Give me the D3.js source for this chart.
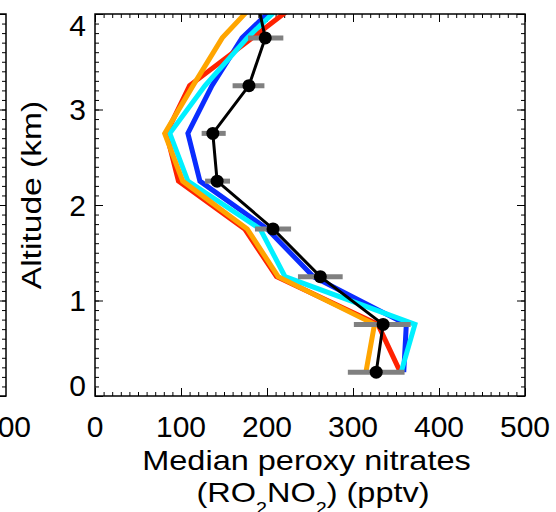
<!DOCTYPE html>
<html>
<head>
<meta charset="utf-8">
<script src="https://cdn.jsdelivr.net/npm/d3@7"></script>
<style>
  html, body { margin: 0; padding: 0; background: #fff; }
  svg { display: block; }
  text { font-family: "Liberation Sans", Arial, Helvetica, sans-serif; fill: #000; }
</style>
</head>
<body>
<svg id="chart" width="556" height="512"></svg>
<script>
// Altitude bins (km) shared by every profile
const altitudes = [0.25, 0.75, 1.25, 1.75, 2.25, 2.75, 3.25, 3.75, 4.25];

// Model profiles of median RO2NO2 (pptv)
const redProfile    = [355, 329, 211, 174,  97,  83, 110, 183, 255];
const blueProfile   = [359, 362, 254, 200, 122, 108, 136, 171, 229];
const cyanProfile   = [356, 372, 221, 192, 108,  87, 128, 177, 235];
const orangeProfile = [315, 325, 213, 177, 102,  81, 114, 148, 200];

// Observed medians with spread bars (pptv)
const obsMedian = [327, 335, 262, 207, 142, 137, 179, 198, 186];
const obsLow    = [294, 301, 236, 186, 128, 124, 160, 178, 165];
const obsHigh   = [360, 367, 288, 228, 157, 152, 197, 219, 207];

// Axis tick labels
const xTickValues = [0, 100, 200, 300, 400, 500];
const yTickValues = [0, 1, 2, 3, 4];

const profiles = [
  { values: blueProfile,   color: "#0a2cff" },
  { values: redProfile,    color: "#ff2200" },
  { values: cyanProfile,   color: "#00f0ff" },
  { values: orangeProfile, color: "#ffa500" }
];

const svg = d3.select("#chart");
const plotLeft = 95, plotRight = 525, plotTop = 14, plotBottom = 396;

const x = d3.scaleLinear().domain([0, 500]).range([plotLeft, plotRight]);
const y = d3.scaleLinear().domain([0, 4]).range([plotBottom, plotTop]);

const minorX = d3.range(0, 501, 10);
const minorY = d3.range(0, 40.5, 1).map(d => d / 10);

// ---- neighbouring panel edge on the far left ----
const edgeX = 6;
const gEdge = svg.append("g").attr("transform", `translate(${edgeX},0)`);
gEdge.append("g").call(d3.axisRight(y).tickValues(minorY).tickSize(-4).tickFormat(""))
  .call(g => g.select(".domain").remove());
gEdge.append("g").call(d3.axisRight(y).tickValues(yTickValues).tickSize(-8).tickFormat(""))
  .call(g => g.select(".domain").remove());
gEdge.selectAll("line").attr("stroke", "#000").attr("stroke-width", 1);
svg.append("path")
  .attr("d", `M0,${plotTop}H${edgeX}V${plotBottom}H0`)
  .attr("fill", "none").attr("stroke", "#000").attr("stroke-width", 1.5);
svg.append("text")
  .attr("x", edgeX).attr("y", 437)
  .attr("text-anchor", "middle").attr("font-size", 30)
  .text("500");

// ---- ticks on all four sides, pointing inward ----
function tickGroup(axis, tx, ty) {
  const g = svg.append("g").attr("transform", `translate(${tx},${ty})`).call(axis);
  g.select(".domain").remove();
  g.selectAll("line").attr("stroke", "#000").attr("stroke-width", 1);
  return g;
}
tickGroup(d3.axisBottom(x).tickValues(minorX).tickSize(-4).tickFormat(""), 0, plotBottom);
tickGroup(d3.axisBottom(x).tickValues(xTickValues).tickSize(-8).tickFormat(""), 0, plotBottom);
tickGroup(d3.axisTop(x).tickValues(minorX).tickSize(-4).tickFormat(""), 0, plotTop);
tickGroup(d3.axisTop(x).tickValues(xTickValues).tickSize(-8).tickFormat(""), 0, plotTop);
tickGroup(d3.axisLeft(y).tickValues(minorY).tickSize(-4).tickFormat(""), plotLeft, 0);
tickGroup(d3.axisLeft(y).tickValues(yTickValues).tickSize(-8).tickFormat(""), plotLeft, 0);
tickGroup(d3.axisRight(y).tickValues(minorY).tickSize(-4).tickFormat(""), plotRight, 0);
tickGroup(d3.axisRight(y).tickValues(yTickValues).tickSize(-8).tickFormat(""), plotRight, 0);

// ---- tick labels ----
svg.append("g").selectAll("text").data(xTickValues).join("text")
  .attr("x", d => x(d)).attr("y", 437)
  .attr("text-anchor", "middle").attr("font-size", 30)
  .text(d => d);

const capH = 21.5;
svg.append("g").selectAll("text").data(yTickValues).join("text")
  .attr("x", 86)
  .attr("y", d => {
    // keep the end labels inside the axis span
    const c = Math.min(Math.max(y(d), plotTop + capH / 2), plotBottom - capH / 2);
    return c + capH / 2;
  })
  .attr("text-anchor", "end").attr("font-size", 30)
  .text(d => d);

// ---- data ----
svg.append("defs").append("clipPath").attr("id", "plotClip")
  .append("rect").attr("x", plotLeft).attr("y", plotTop)
  .attr("width", plotRight - plotLeft).attr("height", plotBottom - plotTop);

const plot = svg.append("g").attr("clip-path", "url(#plotClip)");

const line = d3.line()
  .x(d => x(d[0]))
  .y(d => y(d[1]));

profiles.forEach(p => {
  plot.append("path")
    .datum(p.values.map((v, i) => [v, altitudes[i]]))
    .attr("d", line)
    .attr("fill", "none")
    .attr("stroke", p.color)
    .attr("stroke-width", 5)
    .attr("stroke-linejoin", "miter");
});

// spread bars
plot.append("g").selectAll("line").data(altitudes).join("line")
  .attr("x1", (d, i) => x(obsLow[i]))
  .attr("x2", (d, i) => x(obsHigh[i]))
  .attr("y1", d => y(d)).attr("y2", d => y(d))
  .attr("stroke", "#808080").attr("stroke-width", 5);

// median line and points
plot.append("path")
  .datum(obsMedian.map((v, i) => [v, altitudes[i]]))
  .attr("d", line)
  .attr("fill", "none").attr("stroke", "#000").attr("stroke-width", 3);

plot.append("g").selectAll("circle").data(altitudes).join("circle")
  .attr("cx", (d, i) => x(obsMedian[i]))
  .attr("cy", d => y(d))
  .attr("r", 6.5)
  .attr("fill", "#000");

// ---- frame ----
svg.append("rect")
  .attr("x", plotLeft).attr("y", plotTop)
  .attr("width", plotRight - plotLeft).attr("height", plotBottom - plotTop)
  .attr("fill", "none").attr("stroke", "#000").attr("stroke-width", 1.5);

// ---- axis titles ----
const xTitle1 = svg.append("g").attr("transform", "translate(306.5,470) scale(1.16,1)");
xTitle1.append("text").attr("text-anchor", "middle").attr("font-size", 28)
  .text("Median peroxy nitrates");

const xTitle2 = svg.append("g").attr("transform", "translate(313,502) scale(1.16,1)");
const t2 = xTitle2.append("text").attr("text-anchor", "middle").attr("font-size", 28);
t2.append("tspan").text("(RO");
t2.append("tspan").attr("font-size", 17).attr("dy", 12).text("2");
t2.append("tspan").attr("dy", -12).text("NO");
t2.append("tspan").attr("font-size", 17).attr("dy", 12).text("2");
t2.append("tspan").attr("dy", -12).text(") (pptv)");

const yTitle = svg.append("g").attr("transform", "translate(41,195) rotate(-90) scale(1.2,1)");
yTitle.append("text").attr("text-anchor", "middle").attr("font-size", 28)
  .text("Altitude (km)");
</script>
</body>
</html>
